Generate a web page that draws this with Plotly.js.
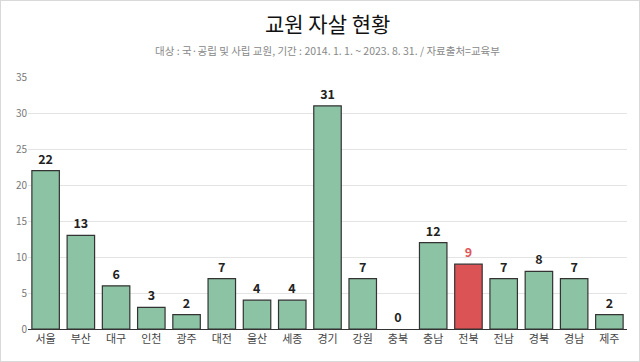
<!DOCTYPE html>
<html><head><meta charset="utf-8">
<script src="https://cdn.plot.ly/plotly-3.0.1.min.js"></script>
<style>html,body{margin:0;padding:0;background:#fff}#c{width:640px;height:362px}</style>
</head><body><div id="c"></div>
<script>
const regions = ['서울','부산','대구','인천','광주','대전','울산','세종','경기','강원','충북','충남','전북','전남','경북','경남','제주'];
const counts = [22,13,6,3,2,7,4,4,31,7,0,12,9,7,8,7,2];
const highlight = '전북';
const colors = regions.map(r => r === highlight ? '#DC5356' : '#8CC3A4');
const labelColors = regions.map(r => r === highlight ? '#E0585B' : '#222');
const yTicks = [0,5,10,15,20,25,30,35];

const trace = {
  type: 'bar', x: regions, y: counts,
  marker: {color: colors, line: {color: '#333', width: counts.map(v => v === 0 ? 0 : 1.2)}},
  text: counts.map(String), textposition: 'outside', cliponaxis: false,
  textfont: {family: 'Noto Sans CJK KR, Noto Sans', size: 12.5, color: labelColors, weight: 'bold'},
  hoverinfo: 'none'
};
const layout = {
  width: 640, height: 362,
  margin: {l: 28, r: 13, t: 77, b: 33},
  paper_bgcolor: '#fff', plot_bgcolor: '#fff',
  font: {family: 'Noto Sans CJK KR, Noto Sans', color: '#555'},
  bargap: 0.22, showlegend: false,
  xaxis: {tickfont: {size: 11, color: '#444'}, showline: true, linecolor: '#333', linewidth: 1.2, ticks: '', fixedrange: true},
  yaxis: {range: [0,35], tickvals: yTicks, tickfont: {size: 10, color: '#777'}, gridcolor: '#e4e4e4', zeroline: false, showline: false, ticks: '', fixedrange: true},
  annotations: [
    {text: '교원 자살 현황', xref: 'paper', yref: 'paper', x: 0.5, y: 1, xanchor: 'center', yanchor: 'bottom', yshift: 37, showarrow: false, font: {size: 21, color: '#111', family: 'Noto Sans CJK KR', weight: 'normal'}},
    {text: '대상 : 국·공립 및 사립 교원, 기간 : 2014. 1. 1. ~ 2023. 8. 31. / 자료출처=교육부', xref: 'paper', yref: 'paper', x: 0.5, y: 1, xanchor: 'center', yanchor: 'bottom', yshift: 17, showarrow: false, font: {size: 10.5, color: '#888', family: 'Noto Sans CJK KR'}}
  ]
};
Plotly.newPlot('c', [trace], layout, {displayModeBar: false, staticPlot: true});
</script>
<div style="position:absolute;left:0;top:0;width:638px;height:360px;border:1px solid #d9d9d9;pointer-events:none"></div>
</body></html>
